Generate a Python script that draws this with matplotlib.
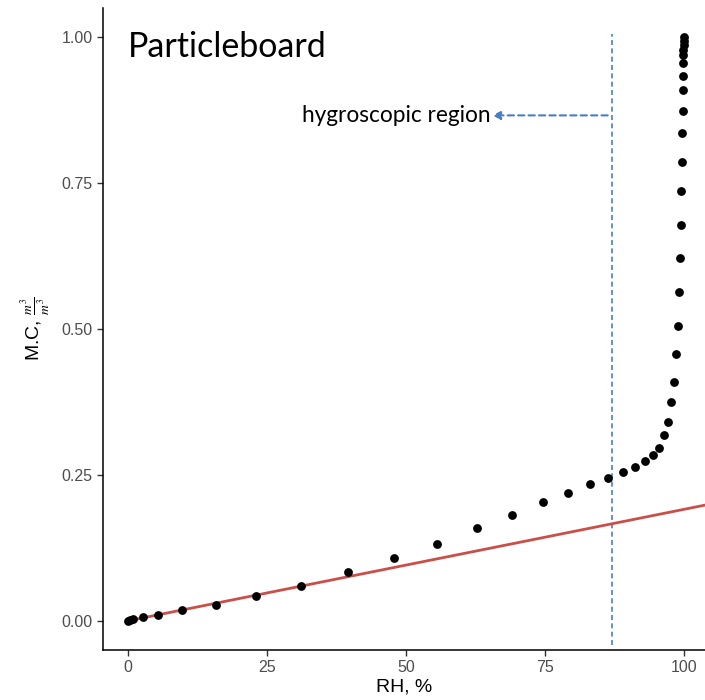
import numpy as np
import matplotlib.pyplot as plt

plt.rcParams["font.family"] = ["Liberation Sans", "DejaVu Sans"]
plt.rcParams["mathtext.fontset"] = "stix"

# measured points (RH %, moisture content m3/m3)
rh = [0, 0.4, 0.9, 2.7, 5.4, 9.7, 15.8, 23.0, 31.1, 39.6, 47.8, 55.6, 62.8,
      69.1, 74.6, 79.1, 83.1, 86.3, 89.0, 91.2, 93.0, 94.4, 95.5, 96.4, 97.1,
      97.7, 98.2, 98.6, 98.9, 99.1, 99.3, 99.5, 99.5, 99.6, 99.6, 99.8, 99.8,
      99.9, 99.9, 99.9, 99.9, 100.0, 100.0, 100.0]
mc = [0.0, 0.001, 0.003, 0.007, 0.010, 0.019, 0.027, 0.043, 0.060, 0.084,
      0.108, 0.132, 0.159, 0.182, 0.204, 0.219, 0.235, 0.245, 0.255, 0.264,
      0.274, 0.284, 0.296, 0.318, 0.341, 0.375, 0.409, 0.457, 0.505, 0.563,
      0.622, 0.678, 0.736, 0.786, 0.836, 0.873, 0.909, 0.933, 0.955, 0.970,
      0.978, 0.986, 0.993, 1.0]

# linear fit of the low-RH range
slope = 0.00191
fit_x = np.array([0, 110])

hygro_rh = 87.1

fig = plt.figure(figsize=(7.05, 7.0), dpi=100)
ax = fig.add_axes([0.1461, 0.0714, 0.8539, 0.9172])

ax.plot(fit_x, slope * fit_x, color="#C9504A", lw=2, zorder=2)
ax.scatter(rh, mc, s=40, color="black", zorder=3, linewidths=0)

ax.plot([hygro_rh, hygro_rh], [-0.042, 1.005], color="#4A7EC4", lw=1.2,
        ls=(0, (3, 2)), zorder=1)
ax.annotate("", xy=(65.5, 0.866), xytext=(86.3, 0.866),
            arrowprops=dict(arrowstyle="-|>", color="#4A7EC4", lw=1.5,
                            ls=(0, (3, 2)), mutation_scale=12,
                            shrinkA=0, shrinkB=0))
ax.text(65.3, 0.866, "hygroscopic region", ha="right", va="center",
        fontsize=16.3, family="Lato", color="black")
ax.text(0, 0.983, "Particleboard", ha="left", va="center",
        fontsize=24.5, family="Lato", color="black")

ax.set_xlim(-4.5, 103.8)
ax.set_ylim(-0.05, 1.05)
ax.set_xticks([0, 25, 50, 75, 100])
ax.set_yticks([0, 0.25, 0.5, 0.75, 1.0])
ax.set_yticklabels(["0.00", "0.25", "0.50", "0.75", "1.00"])

for s in ["top", "right"]:
    ax.spines[s].set_visible(False)
for s in ["left", "bottom"]:
    ax.spines[s].set_linewidth(1.1)
ax.tick_params(direction="out", length=4, width=1, color="#333333",
               labelcolor="#4D4D4D", labelsize=11.5)

ax.set_xlabel("RH, %", fontsize=14, labelpad=2)
ax.set_ylabel(r"M.C, $\frac{m^3}{m^3}$", fontsize=14, labelpad=6)

fig.savefig("out.png", dpi=100)
